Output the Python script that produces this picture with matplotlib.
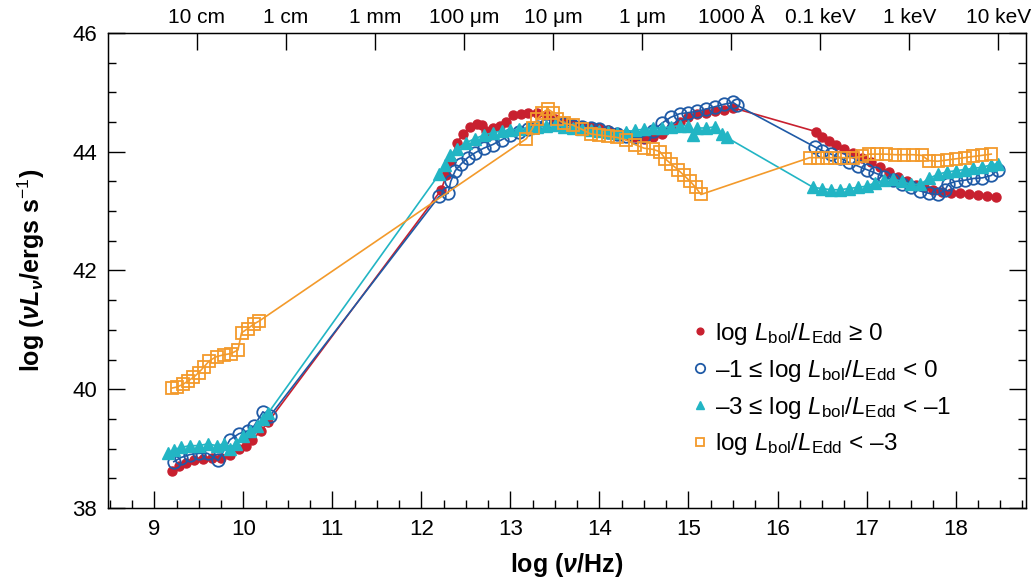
import matplotlib
matplotlib.use("Agg")
import matplotlib.pyplot as plt
from matplotlib.ticker import MultipleLocator

plt.rcParams["font.family"] = ["Liberation Sans", "DejaVu Sans"]
plt.rcParams["mathtext.fontset"] = "custom"
plt.rcParams["mathtext.rm"] = "Liberation Sans"
plt.rcParams["mathtext.it"] = "Liberation Sans:italic"
plt.rcParams["mathtext.bf"] = "Liberation Sans:italic:bold"

# log L_bol/L_Edd >= 0
red_x = [9.20, 9.28, 9.36, 9.45, 9.55, 9.65, 9.75, 9.85, 9.95, 10.03, 10.10, 10.20, 10.28,
         12.22, 12.28, 12.33, 12.40, 12.47, 12.55, 12.62, 12.68, 12.73, 12.80, 12.88, 12.95,
         13.03, 13.12, 13.20, 13.30, 13.40, 13.50, 13.60, 13.70, 13.80, 13.90, 14.00, 14.10,
         14.20, 14.30, 14.40, 14.50, 14.60, 14.70, 14.80, 14.90, 15.00, 15.10, 15.20, 15.30,
         15.40, 15.50,
         16.43, 16.50, 16.58, 16.66, 16.75, 16.85, 16.95, 17.05, 17.15, 17.25, 17.35, 17.45,
         17.55, 17.65, 17.75, 17.85, 17.95, 18.05, 18.15, 18.25, 18.35, 18.45]
red_y = [38.62, 38.70, 38.76, 38.80, 38.82, 38.84, 38.85, 38.90, 39.00, 39.05, 39.15, 39.30, 39.45,
         43.35, 43.60, 43.85, 44.15, 44.30, 44.42, 44.47, 44.45, 44.35, 44.40, 44.43, 44.50,
         44.62, 44.64, 44.66, 44.66, 44.62, 44.55, 44.50, 44.46, 44.44, 44.42, 44.40, 44.36,
         44.32, 44.28, 44.24, 44.22, 44.24, 44.30, 44.40, 44.50, 44.58, 44.64, 44.66, 44.68,
         44.70, 44.74,
         44.34, 44.25, 44.18, 44.12, 44.05, 43.98, 43.90, 43.82, 43.74, 43.66, 43.58, 43.50,
         43.44, 43.40, 43.36, 43.32, 43.30, 43.30, 43.28, 43.27, 43.25, 43.24]

# -1 <= log L_bol/L_Edd < 0
blue_x = [9.22, 9.30, 9.40, 9.50, 9.60, 9.72, 9.85, 9.95, 10.05, 10.12, 10.22, 10.30,
          12.20, 12.30, 12.33, 12.38, 12.45, 12.52, 12.60, 12.70, 12.80, 12.90, 13.00, 13.10,
          13.20, 13.30, 13.40, 13.50, 13.60, 13.70, 13.80, 13.90, 14.00, 14.10, 14.20, 14.30,
          14.40, 14.50, 14.60, 14.70, 14.80, 14.90, 15.00, 15.10, 15.20, 15.30, 15.40, 15.50,
          15.55,
          16.42, 16.50, 16.60, 16.70, 16.80, 16.90, 17.00, 17.10, 17.20, 17.30, 17.40, 17.50,
          17.60, 17.70, 17.80, 17.88, 17.92, 18.00, 18.10, 18.20, 18.30, 18.40, 18.48]
blue_y = [38.78, 38.85, 38.90, 38.92, 38.92, 38.80, 39.15, 39.25, 39.30, 39.38, 39.62, 39.55,
          43.25, 43.30, 43.50, 43.68, 43.80, 43.90, 43.98, 44.06, 44.12, 44.20, 44.28, 44.34,
          44.38, 44.42, 44.45, 44.46, 44.46, 44.44, 44.42, 44.40, 44.38, 44.34, 44.30, 44.26,
          44.24, 44.26, 44.35, 44.48, 44.58, 44.64, 44.66, 44.68, 44.72, 44.76, 44.80, 44.83,
          44.78,
          44.08, 44.02, 43.96, 43.90, 43.82, 43.76, 43.70, 43.64, 43.58, 43.52, 43.46, 43.40,
          43.34, 43.30, 43.28, 43.35, 43.46, 43.50, 43.52, 43.55, 43.56, 43.60, 43.70]

# -3 <= log L_bol/L_Edd < -1
cyan_x = [9.15, 9.22, 9.30, 9.40, 9.50, 9.60, 9.70, 9.78, 9.85, 9.92, 10.00, 10.08, 10.15,
          10.22, 10.28,
          12.20, 12.26, 12.32, 12.40, 12.50, 12.60, 12.70, 12.80, 12.90, 13.00, 13.10, 13.20,
          13.30, 13.40, 13.50, 13.60, 13.70, 13.80, 13.90, 14.00, 14.10, 14.20, 14.30, 14.40,
          14.50, 14.60, 14.70, 14.80, 14.90, 15.00, 15.05, 15.10, 15.20, 15.30, 15.38, 15.43,
          16.40, 16.50, 16.60, 16.70, 16.80, 16.90, 17.00, 17.10, 17.20, 17.30, 17.40, 17.50,
          17.60, 17.70, 17.80, 17.90, 18.00, 18.10, 18.20, 18.30, 18.40, 18.48]
cyan_y = [38.92, 38.98, 39.02, 39.05, 39.05, 39.08, 39.05, 39.08, 39.00, 39.08, 39.22, 39.30, 39.38,
          39.50, 39.60,
          43.62, 43.78, 43.95, 44.05, 44.15, 44.22, 44.28, 44.32, 44.35, 44.36, 44.38, 44.40,
          44.42, 44.44, 44.45, 44.42, 44.40, 44.38, 44.37, 44.35, 44.33, 44.32, 44.34, 44.36,
          44.38, 44.40, 44.40, 44.42, 44.44, 44.44, 44.28, 44.40, 44.40, 44.42, 44.30, 44.24,
          43.40, 43.38, 43.36, 43.36, 43.38, 43.40, 43.42, 43.48, 43.52, 43.54, 43.50, 43.45,
          43.45, 43.55, 43.62, 43.66, 43.68, 43.70, 43.72, 43.74, 43.78, 43.80]

# log L_bol/L_Edd < -3
orange_x = [9.20, 9.26, 9.32, 9.38, 9.44, 9.50, 9.56, 9.62, 9.70, 9.78, 9.86, 9.94, 9.98,
            10.05, 10.12, 10.18,
            13.18, 13.25, 13.30, 13.36, 13.42, 13.48, 13.52, 13.60, 13.70, 13.80, 13.90, 14.00,
            14.10, 14.20, 14.30, 14.40, 14.50, 14.60, 14.68, 14.74, 14.80, 14.88, 14.95, 15.02,
            15.08, 15.14,
            16.36, 16.45, 16.55, 16.65, 16.75, 16.85, 16.95, 17.03, 17.12, 17.22, 17.32, 17.42,
            17.52, 17.62, 17.70, 17.80, 17.90, 18.00, 18.10, 18.20, 18.30, 18.40]
orange_y = [40.02, 40.04, 40.08, 40.14, 40.20, 40.28, 40.38, 40.48, 40.55, 40.58, 40.60, 40.66, 40.95,
            41.02, 41.10, 41.15,
            44.22, 44.40, 44.55, 44.65, 44.72, 44.66, 44.55, 44.48, 44.45, 44.38, 44.30, 44.28,
            44.26, 44.24, 44.20, 44.12, 44.06, 44.04, 44.00, 43.88, 43.80, 43.70, 43.60, 43.50,
            43.40, 43.28,
            43.90, 43.90, 43.90, 43.90, 43.90, 43.90, 43.92, 43.96, 43.96, 43.96, 43.95, 43.95,
            43.95, 43.94, 43.85, 43.84, 43.86, 43.88, 43.90, 43.92, 43.94, 43.96]

top_labels = ["10 cm", "1 cm", "1 mm", "100 μm", "10 μm", "1 μm", "1000 Å",
              "0.1 keV", "1 keV", "10 keV"]
top_ticks = [9.48 + i for i in range(len(top_labels))]

red = "#c8202f"
blue = "#1f5aa6"
cyan = "#22b5c4"
orange = "#f39a2b"

fig = plt.figure(figsize=(10.36, 5.87), dpi=100)
ax = fig.add_axes([0.1042, 0.1346, 0.8861, 0.8092])

ax.plot(red_x, red_y, color=red, lw=1.2, marker="o", ms=6.5, mec=red, mfc=red,
        zorder=2, label=r"log $\mathit{L}_{\mathrm{bol}}/\mathit{L}_{\mathrm{Edd}}$ ≥ 0")
ax.plot(blue_x, blue_y, color=blue, lw=1.2, marker="o", ms=9, mec=blue, mfc="none",
        mew=1.3, zorder=3,
        label=r"–1 ≤ log $\mathit{L}_{\mathrm{bol}}/\mathit{L}_{\mathrm{Edd}}$ < 0")
ax.plot(cyan_x, cyan_y, color=cyan, lw=1.2, marker="^", ms=8.5, mec=cyan, mfc=cyan,
        zorder=4,
        label=r"–3 ≤ log $\mathit{L}_{\mathrm{bol}}/\mathit{L}_{\mathrm{Edd}}$ < –1")
ax.plot(orange_x, orange_y, color=orange, lw=1.2, marker="s", ms=8, mec=orange, mfc="none",
        mew=1.3, zorder=5,
        label=r"log $\mathit{L}_{\mathrm{bol}}/\mathit{L}_{\mathrm{Edd}}$ < –3")

ax.set_xlim(8.48, 18.79)
ax.set_ylim(38, 46)
ax.xaxis.set_major_locator(MultipleLocator(1))
ax.xaxis.set_minor_locator(MultipleLocator(0.25))
ax.yaxis.set_major_locator(MultipleLocator(2))
ax.yaxis.set_minor_locator(MultipleLocator(0.5))
ax.tick_params(which="both", direction="in", top=False, right=True, width=1)
ax.tick_params(which="major", length=12, labelsize=16, pad=8)
ax.tick_params(which="minor", length=6)
for s in ax.spines.values():
    s.set_linewidth(1)

ax.set_xlabel(r"log ($\mathbf{\nu}$/Hz)", fontsize=18, fontweight="bold", labelpad=8)
ax.set_ylabel(r"log ($\mathbf{\nu L_{\nu}}$/ergs s$^{-1}$)", fontsize=18,
              fontweight="bold", labelpad=18)

top = ax.twiny()
top.set_xlim(ax.get_xlim())
top.set_xticks(top_ticks)
top.set_xticklabels(top_labels)
top.tick_params(direction="in", length=12, width=1, labelsize=15, pad=4)
top.xaxis.set_minor_locator(plt.NullLocator())

leg = ax.legend(loc="upper left", bbox_to_anchor=(0.625, 0.42), frameon=False, fontsize=17.5,
                handlelength=0.5, handletextpad=0.35, labelspacing=0.45, borderpad=0,
                markerscale=0.75)
for h in leg.legend_handles:
    h.set_linestyle("none")

fig.savefig("out.png", dpi=100)
